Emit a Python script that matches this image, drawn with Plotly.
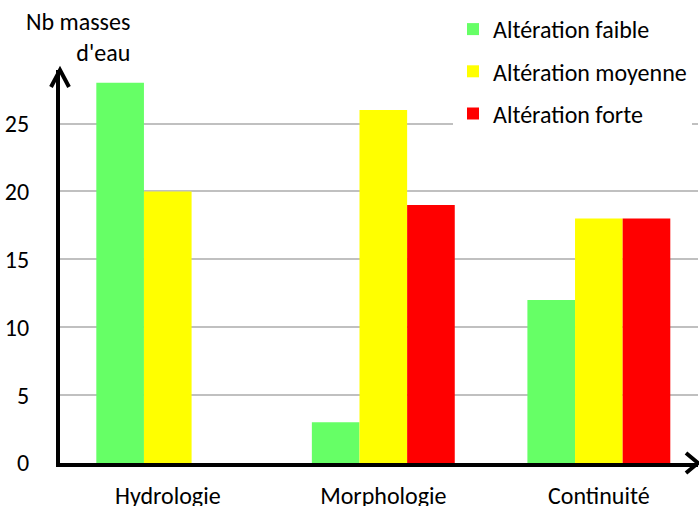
import plotly.graph_objects as go

# Number of water bodies per alteration level, for each pressure type
categories = ["Hydrologie", "Morphologie", "Continuité"]
faible = [28, 3, 12]
moyenne = [20, 26, 18]
forte = [0, 19, 18]
series_names = ["Altération faible", "Altération moyenne", "Altération forte"]
series_colors = ["#66FF66", "#FFFF00", "#FF0000"]
y_ticks = [0, 5, 10, 15, 20, 25]

FONT = "Calibri, Carlito, Lato, sans-serif"
FS = 24
W, H = 699, 506
L, R, T, B = 60, 1, 70, 43
PW, PH = W - L - R, H - T - B


def px_to_paper(px, py):
    return (px - L) / PW, (H - B - py) / PH


fig = go.Figure()
for i, (name, vals, col) in enumerate(zip(series_names, [faible, moyenne, forte], series_colors)):
    fig.add_trace(go.Bar(
        x=categories, y=vals, name=name, marker=dict(color=col, line=dict(width=0)),
        legendgroup=f"g{i}",
    ))

# arrowheads at the ends of the axes
ax_shapes = []
for tip, a1, a2 in [((60, 70), (51, 87), (69, 87)), ((698, 463), (686, 453), (686, 473))]:
    p1, p0, p2 = px_to_paper(*a1), px_to_paper(*tip), px_to_paper(*a2)
    ax_shapes.append(dict(
        type="path", xref="paper", yref="paper",
        path=f"M{p1[0]},{p1[1]} L{p0[0]},{p0[1]} L{p2[0]},{p2[1]}",
        line=dict(color="black", width=4),
    ))

tx, ty = px_to_paper(132, 37)
lx, ly = px_to_paper(453, 7)

fig.update_layout(
    width=W, height=H,
    margin=dict(l=L, r=R, t=T, b=B, autoexpand=False),
    paper_bgcolor="white", plot_bgcolor="white",
    font=dict(family=FONT, size=FS, color="black"),
    barmode="group", bargap=0.337, bargroupgap=0,
    showlegend=True,
    legend=dict(
        x=lx, y=ly, xanchor="left", yanchor="top", xref="paper", yref="paper",
        bgcolor="white", borderwidth=0, tracegroupgap=8,
        font=dict(family=FONT, size=FS, color="black"),
    ),
    xaxis=dict(
        range=[-0.5, 2.46], showgrid=False, showline=True, linecolor="black", linewidth=4,
        ticks="", ticklabelstandoff=8, tickfont=dict(family=FONT, size=FS),
        fixedrange=True, automargin=False,
    ),
    yaxis=dict(
        range=[0, 28.94], tickvals=y_ticks, showgrid=True, gridcolor="#C0C0C0", gridwidth=1.5,
        zeroline=False, showline=True, linecolor="black", linewidth=4,
        ticks="", ticklabelstandoff=22, tickfont=dict(family=FONT, size=FS),
        fixedrange=True, automargin=False,
    ),
    shapes=ax_shapes,
    annotations=[dict(
        text="Nb masses<br>d'eau", xref="paper", yref="paper", x=tx, y=ty,
        xanchor="right", yanchor="middle", align="right", showarrow=False,
        font=dict(family=FONT, size=FS, color="black"),
    )],
)

fig.write_html("out.html")
